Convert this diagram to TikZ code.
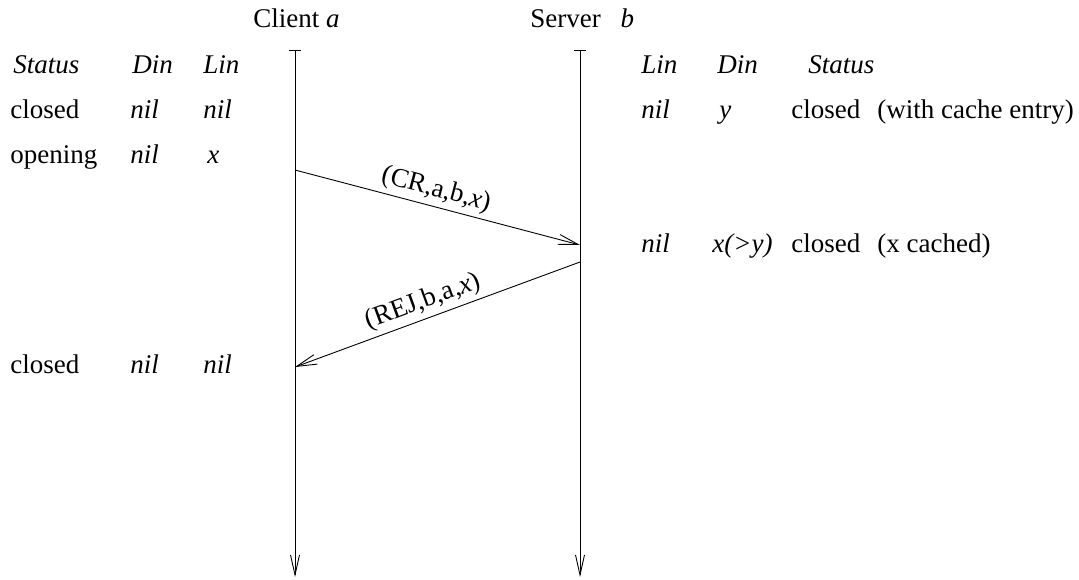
\documentclass[tikz,border=0pt]{standalone}
\usepackage{fontspec}
\setmainfont{Liberation Serif}
\usetikzlibrary{arrows.meta}
\begin{document}
\begin{tikzpicture}[x=0.5pt,y=-0.5pt,
  every node/.style={font=\fontsize{13.5}{16}\selectfont,inner sep=0pt,anchor=base west},
  lifeline/.style={line width=0.45pt,{Bar[width=6pt,line width=0.45pt]}-{Straight Barb[length=10pt,width=4.5pt,line width=0.45pt]}},
  msg/.style={line width=0.45pt,-{Straight Barb[length=10pt,width=5pt,line width=0.45pt]}},
  msglabel/.style={anchor=south,sloped,inner sep=2pt}]
\useasboundingbox (0,0) rectangle (1079,579);

\node (client) at (253,27) {Client \textit{a}};
\node (server) at (530,27) {Server\hspace{6.5pt} \textit{b}};

\coordinate (ctop) at (295,50);
\coordinate (cbot) at (295,577);
\coordinate (stop) at (580,50);
\coordinate (sbot) at (580,577);
\draw[lifeline] (ctop) -- (cbot);
\draw[lifeline] (stop) -- (sbot);

\node (lstatus) at (13,73) {\textit{Status}};
\node (ldin) at (132,73) {\textit{Din}};
\node (llin) at (203,73) {\textit{Lin}};
\node (lst1) at (10,118) {closed};
\node (ldin1) at (130,118) {\textit{nil}};
\node (llin1) at (203,118) {\textit{nil}};
\node (lst2) at (10,163) {opening};
\node (ldin2) at (130,163) {\textit{nil}};
\node (llin2) at (207,163) {\textit{x}};
\node (lst3) at (10,373) {closed};
\node (ldin3) at (130,373) {\textit{nil}};
\node (llin3) at (203,373) {\textit{nil}};

\node (rlin) at (641,73) {\textit{Lin}};
\node (rdin) at (717,73) {\textit{Din}};
\node (rstatus) at (808,73) {\textit{Status}};
\node (rlin1) at (641,118) {\textit{nil}};
\node (rdin1) at (719,118) {\textit{y}};
\node (rst1) at (791,118) {closed};
\node (rnote1) at (877,118) {(with cache entry)};
\node (rlin2) at (641,252) {\textit{nil}};
\node (rdin2) at (712,252) {\textit{x(>y)}};
\node (rst2) at (791,252) {closed};
\node (rnote2) at (877,252) {(x cached)};

\coordinate (crout) at (295,170);
\coordinate (crin) at (580,245);
\coordinate (rejout) at (580,262);
\coordinate (rejin) at (295,367);
\draw[msg] (crout) -- node[msglabel,pos=0.48] (crlabel) {(CR,a,b,\textit{x})} (crin);
\draw[msg] (rejout) -- node[msglabel,pos=0.53] (rejlabel) {(REJ,b,a,\textit{x})} (rejin);

\end{tikzpicture}
\end{document}
